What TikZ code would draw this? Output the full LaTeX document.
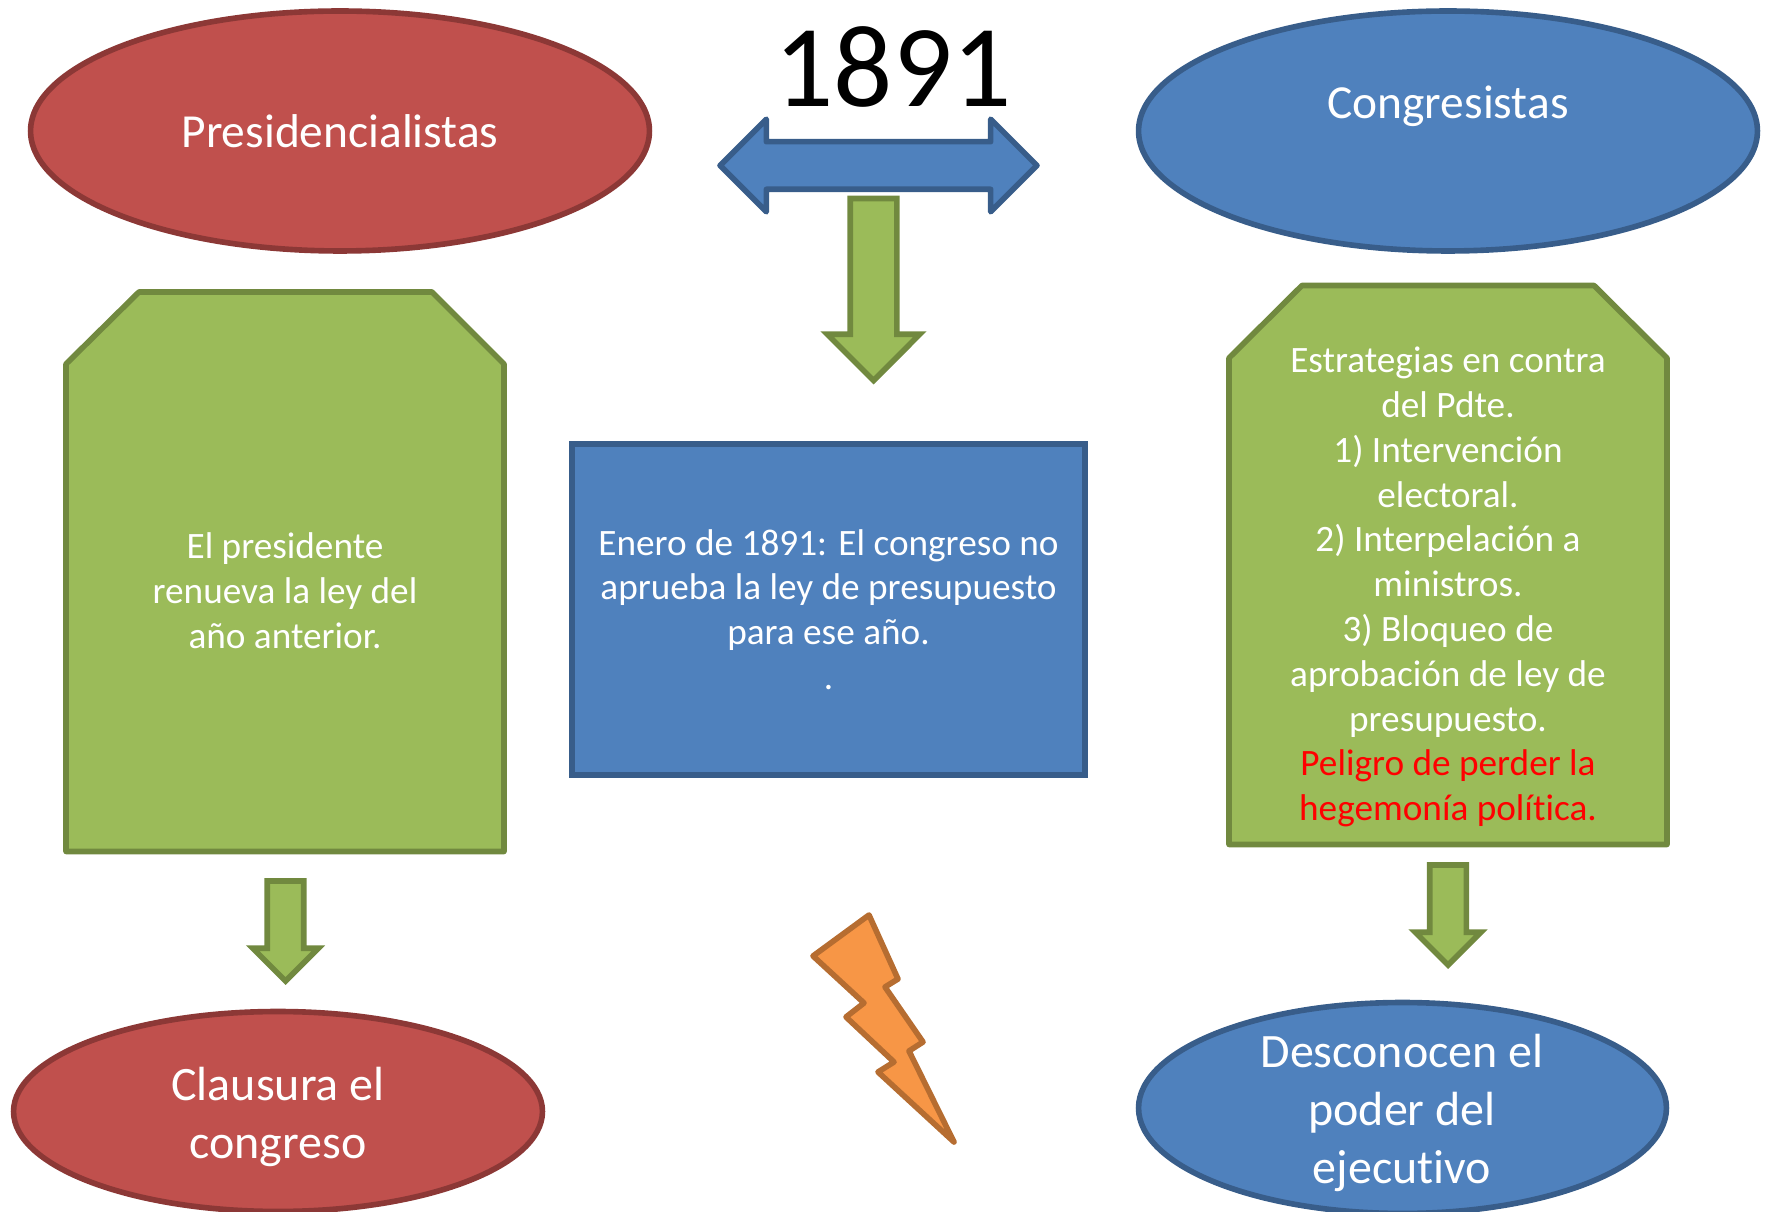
\documentclass[tikz,border=0pt]{standalone}
\usepackage{fontspec}
\setmainfont{Carlito}[Ligatures=NoCommon]
\usepackage{xcolor}
\usetikzlibrary{shapes.geometric, shapes.arrows}

\definecolor{redfill}{HTML}{C0504D}
\definecolor{redline}{HTML}{8C3836}
\definecolor{bluefill}{HTML}{4F81BD}
\definecolor{blueline}{HTML}{385D8A}
\definecolor{greenfill}{HTML}{9BBB59}
\definecolor{greenline}{HTML}{71893F}
\definecolor{boltfill}{HTML}{F79646}
\definecolor{boltline}{HTML}{B66D31}

\tikzset{
    outline/.style = {line width=3.2pt},
    oval/.style = {ellipse, outline, inner sep=0pt},
    redoval/.style = {oval, fill=redfill, draw=redline},
    blueoval/.style = {oval, fill=bluefill, draw=blueline},
    snipbox/.style = {outline, line join=round, fill=greenfill, draw=greenline},
    downarrow/.style = {single arrow, shape border rotate=270, anchor=tip, outline, miter limit=10,
        fill=greenfill, draw=greenline, inner sep=0.31cm, single arrow head extend=0.29cm, minimum height=2cm},
    headtext/.style = {text=white, font=\fontsize{27}{33}\selectfont},
    bodytext/.style = {text=white, align=center, font=\fontsize{21.2}{25.5}\selectfont},
    bigtext/.style = {text=white, align=center, font=\fontsize{27.3}{33}\selectfont}
}

\begin{document}
\begin{tikzpicture} [x=0.02cm, y=-0.02cm]
    \useasboundingbox (0,0) rectangle (1766,1212);

    \node (presid) [redoval, headtext, minimum width=12.38cm, minimum height=4.8cm] at (340,131) {Presidencialistas};
    \node (congres) [blueoval, minimum width=12.38cm, minimum height=4.8cm] at (1448,131) {};
    \node (congrestext) [headtext] at (1448,106) {Congresistas};
    \node (year) [font=\fontsize{66.6}{70}\selectfont] at (893,67) {1891};

    \node (both) [double arrow, outline, line join=round, fill=bluefill, draw=blueline, inner sep=0.42cm,
        double arrow head extend=0.45cm, double arrow tip angle=90, minimum height=6.34cm] at (878.5,165.5) {};
    \node (down) [downarrow, inner sep=0.41cm, single arrow head extend=0.46cm, minimum height=3.64cm] at (873.5,384.5) {};

    \draw [snipbox] (66,851.5) -- (66,364) -- (139,292) -- (432,292) -- (504,364) -- (504,851.5) -- cycle;
    \node (lefttext) [bodytext] at (285,591) {El presidente\\renueva la ley del\\año anterior.};

    \node (middle) [rectangle, outline, fill=bluefill, draw=blueline, inner sep=0pt, minimum width=10.26cm,
        minimum height=6.62cm, bodytext] at (828.5,609.5) {Enero de 1891: El congreso no\\aprueba la ley de presupuesto\\para ese año.\\.};

    \draw [snipbox] (1229,844.5) -- (1229,358) -- (1302,285.5) -- (1594,285.5) -- (1667,358) -- (1667,844.5) -- cycle;
    \node (righttext) [bodytext] at (1448,587) {Estrategias en contra\\del Pdte.\\1) Intervención\\electoral.\\2) Interpelación a\\ministros.\\3) Bloqueo de\\aprobación de ley de\\presupuesto.\\\textcolor{red}{Peligro de perder la}\\\textcolor{red}{hegemonía política.}};

    \node (leftdown) [downarrow] at (285.5,985) {};
    \node (rightdown) [downarrow] at (1448,969) {};

    \node (clausura) [redoval, minimum width=10.58cm, minimum height=4cm] at (278,1111.5) {};
    \node (clausuratext) [bigtext] at (278,1116.5) {Clausura el\\congreso};
    \node (desconocen) [blueoval, minimum width=10.56cm, minimum height=4.22cm] at (1402.5,1108) {};
    \node (desconocentext) [bigtext] at (1402,1112.5) {Desconocen el\\poder del\\ejecutivo};

    % rayo
    \draw [outline, line join=round, fill=boltfill, draw=boltline] (869,915) -- (898,979) -- (885,987) -- (923,1042) -- (909,1051)
        -- (954,1142) -- (878,1072) -- (894,1062) -- (846,1017) -- (864,1003) -- (813,956) -- cycle;
\end{tikzpicture}
\end{document}
